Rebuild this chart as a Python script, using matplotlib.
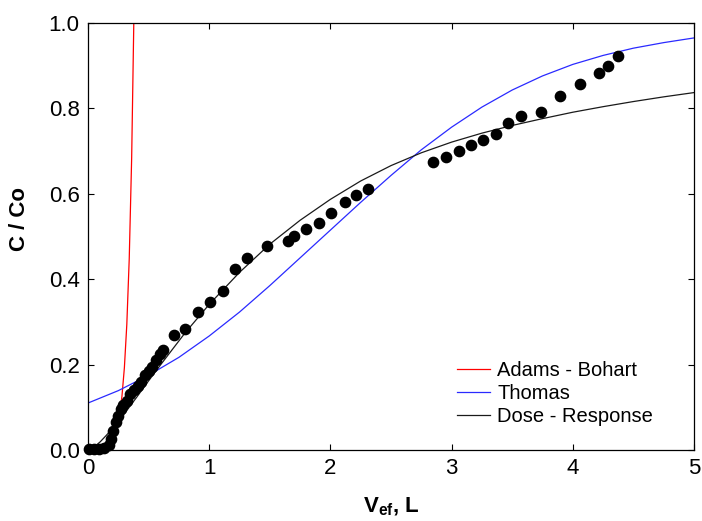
import matplotlib
matplotlib.use("Agg")
import matplotlib.pyplot as plt

plt.rcParams['font.family'] = ['Liberation Sans', 'DejaVu Sans']
plt.rcParams['mathtext.fontset'] = 'custom'
plt.rcParams['mathtext.rm'] = 'Liberation Sans'
plt.rcParams['mathtext.bf'] = 'Liberation Sans:bold'

# Experimental breakthrough data: effluent volume (L) and C/Co
v_exp = [0.01, 0.05, 0.09, 0.13, 0.17,
         0.19, 0.21, 0.23, 0.25, 0.27, 0.29, 0.32, 0.35, 0.38, 0.41,
         0.44, 0.47, 0.50, 0.53, 0.56, 0.59, 0.62,
         0.706, 0.803, 0.907, 1.009, 1.113, 1.212, 1.315, 1.480,
         1.650, 1.697, 1.796, 1.903, 2.008, 2.118, 2.209, 2.310,
         2.847, 2.952, 3.059, 3.164, 3.260, 3.365, 3.467, 3.571, 3.734,
         3.893, 4.059, 4.216, 4.292, 4.375]
c_exp = [0.002, 0.002, 0.003, 0.005, 0.012,
         0.025, 0.045, 0.065, 0.080, 0.095, 0.105, 0.115, 0.130, 0.140, 0.150,
         0.160, 0.175, 0.185, 0.195, 0.210, 0.225, 0.235,
         0.269, 0.283, 0.322, 0.347, 0.373, 0.423, 0.450, 0.478,
         0.489, 0.500, 0.517, 0.531, 0.556, 0.581, 0.596, 0.611,
         0.675, 0.687, 0.700, 0.714, 0.726, 0.739, 0.765, 0.781, 0.791,
         0.830, 0.857, 0.884, 0.899, 0.923]

# Adams - Bohart model curve
v_ab = [0.0, 0.05, 0.10, 0.15, 0.20, 0.22, 0.24, 0.26, 0.28, 0.30,
        0.32, 0.34, 0.36, 0.38]
c_ab = [0.0003, 0.001, 0.0028, 0.0081, 0.0234, 0.0356, 0.0544, 0.0829,
        0.126, 0.193, 0.294, 0.448, 0.684, 1.043]

# Thomas model curve
v_th = [0.0, 0.25, 0.5, 0.75, 1.0, 1.25, 1.5, 1.75, 2.0, 2.25, 2.5,
        2.75, 3.0, 3.25, 3.5, 3.75, 4.0, 4.25, 4.5, 4.75, 5.0]
c_th = [0.110, 0.139, 0.175, 0.217, 0.267, 0.323, 0.385, 0.450, 0.515,
        0.580, 0.643, 0.703, 0.756, 0.803, 0.843, 0.876, 0.903, 0.924,
        0.941, 0.954, 0.965]

# Dose - Response model curve
v_dr = [0.0, 0.05, 0.10, 0.15, 0.20, 0.30, 0.40, 0.50, 0.60, 0.80, 1.0,
        1.25, 1.5, 1.75, 2.0, 2.25, 2.5, 2.75, 3.0, 3.25, 3.5, 3.75, 4.0,
        4.25, 4.5, 4.75, 5.0]
c_dr = [0.0, 0.007, 0.019, 0.034, 0.050, 0.085, 0.123, 0.162, 0.200,
        0.274, 0.341, 0.416, 0.482, 0.538, 0.587, 0.630, 0.666, 0.696,
        0.721, 0.742, 0.760, 0.776, 0.791, 0.804, 0.816, 0.827, 0.837]

x_ticks = [0, 1, 2, 3, 4, 5]
y_ticks = [0.0, 0.2, 0.4, 0.6, 0.8, 1.0]

fig = plt.figure(figsize=(7.02, 5.21), dpi=100)
ax = fig.add_axes([0.1254, 0.1363, 0.8632, 0.8196])

ax.plot(v_ab, c_ab, color='#ff0000', lw=0.9, label='Adams - Bohart', zorder=2)
ax.plot(v_th, c_th, color='#2a2aff', lw=0.9, label='Thomas', zorder=2)
ax.plot(v_dr, c_dr, color='#1a1a1a', lw=0.9, label='Dose - Response', zorder=2)
ax.plot(v_exp, c_exp, linestyle='none', marker='o', ms=7.4,
        color='black', zorder=3, clip_on=False)

ax.set_xlim(0, 5)
ax.set_ylim(0, 1)
ax.set_xticks(x_ticks)
ax.set_xticklabels([str(t) for t in x_ticks])
ax.set_yticks(y_ticks)
ax.set_yticklabels([f'{t:.1f}' for t in y_ticks])
ax.tick_params(direction='in', length=4, width=0.8, labelsize=16,
               top=True, right=True, pad=6)
for s in ax.spines.values():
    s.set_linewidth(0.9)

ax.set_xlabel(r'$\mathbf{V_{ef}}$, L', fontsize=16, fontweight='bold', labelpad=12)
ax.set_ylabel('C / Co', fontsize=16, fontweight='bold')
ax.yaxis.set_label_coords(-0.096, 0.54)

leg = ax.legend(loc='upper left', bbox_to_anchor=(0.609, 0.208), frameon=False,
                fontsize=14.5, handlelength=1.65, handletextpad=0.35,
                labelspacing=0.2, borderpad=0, borderaxespad=0)

fig.savefig('out.png', dpi=100)
